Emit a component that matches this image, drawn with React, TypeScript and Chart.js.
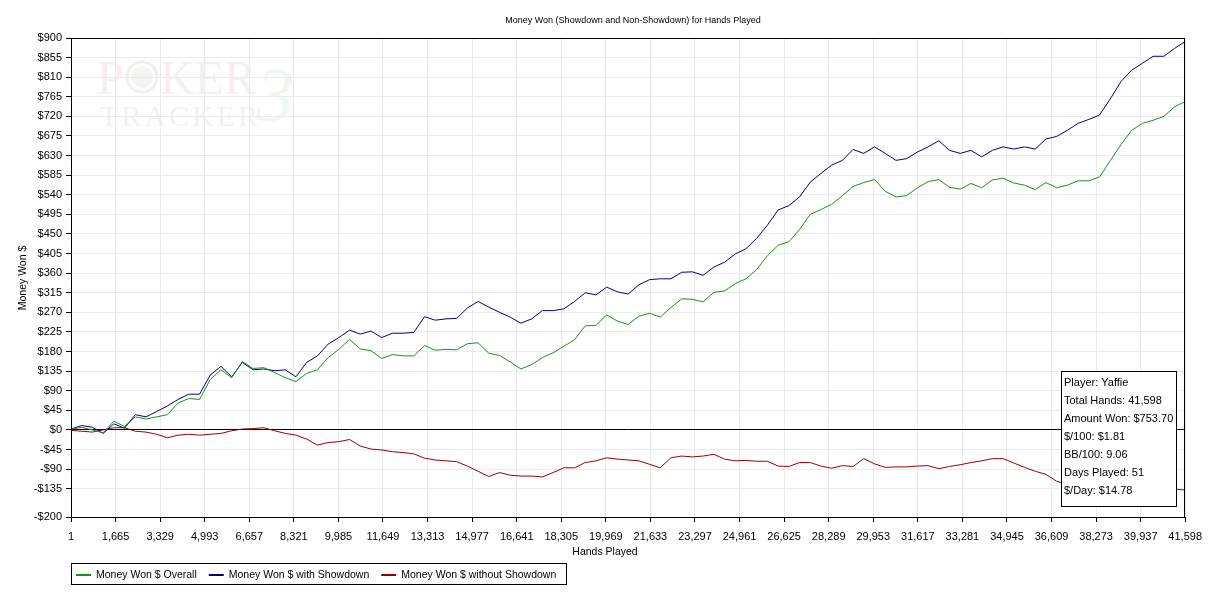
import React, { useEffect, useRef } from "react";
import { Chart, registerables } from "chart.js";

Chart.register(...registerables);

const HANDS = [
  1, 400, 800, 1200, 1600, 2000, 2400, 2800, 3200, 3600,
  4000, 4400, 4800, 5200, 5600, 6000, 6400, 6800, 7200, 7600,
  8000, 8400, 8800, 9200, 9600, 10000, 10400, 10800, 11200, 11600,
  12000, 12400, 12800, 13200, 13600, 14000, 14400, 14800, 15200, 15600,
  16000, 16400, 16800, 17200, 17600, 18000, 18400, 18800, 19200, 19600,
  20000, 20400, 20800, 21200, 21600, 22000, 22400, 22800, 23200, 23600,
  24000, 24400, 24800, 25200, 25600, 26000, 26400, 26800, 27200, 27600,
  28000, 28400, 28800, 29200, 29600, 30000, 30400, 30800, 31200, 31600,
  32000, 32400, 32800, 33200, 33600, 34000, 34400, 34800, 35200, 35600,
  36000, 36400, 36800, 37200, 37600, 38000, 38400, 38800, 39200, 39600,
  40000, 40400, 40800, 41200, 41598,
];

const OVERALL = [
  1, 6, 0, -7, 20, 8, 30, 25, 30, 35,
  62, 72, 70, 116, 138, 120, 157, 141, 143, 132,
  120, 111, 130, 138, 166, 185, 208, 186, 182, 164,
  173, 170, 170, 194, 183, 185, 184, 198, 200, 176,
  171, 156, 140, 150, 166, 177, 192, 207, 239, 240,
  264, 250, 242, 261, 268, 259, 281, 301, 300, 294,
  316, 319, 336, 347, 368, 400, 424, 432, 460, 495,
  506, 518, 538, 559, 568, 575, 548, 535, 538, 556,
  570, 575, 557, 553, 566, 556, 574, 578, 567, 562,
  552, 568, 556, 562, 572, 572, 581, 618, 655, 688,
  704, 711, 720, 742, 754,
];

const WITH_SHOWDOWN = [
  2, 10, 6, -8, 14, 4, 35, 30, 42, 55,
  70, 82, 82, 126, 146, 122, 155, 138, 140, 136,
  138, 122, 155, 170, 197, 212, 229, 220, 227, 212,
  222, 222, 224, 260, 252, 255, 256, 280, 295, 282,
  270, 259, 245, 255, 274, 274, 278, 295, 315, 310,
  328, 317, 312, 333, 345, 347, 347, 362, 363, 355,
  374, 385, 404, 416, 440, 470, 505, 515, 535, 569,
  589, 608, 619, 644, 635, 650, 635, 619, 623, 638,
  650, 664, 642, 635, 642, 627, 642, 650, 645, 650,
  645, 668, 674, 688, 704, 713, 723, 760, 800, 826,
  842, 858, 858, 876, 892,
];

const WITHOUT_SHOWDOWN = [
  -1, -3, -5, 0, 5, 5, -3, -5, -10, -18,
  -12, -10, -12, -10, -8, -2, 2, 3, 5, -2,
  -8, -12, -21, -35, -29, -27, -22, -37, -44, -46,
  -50, -52, -55, -65, -69, -71, -73, -83, -95, -107,
  -98, -104, -106, -106, -108, -98, -87, -87, -75, -71,
  -64, -67, -69, -71, -79, -87, -64, -60, -62, -60,
  -56, -67, -71, -70, -72, -72, -83, -84, -75, -75,
  -83, -88, -82, -84, -66, -78, -86, -85, -85, -83,
  -82, -89, -84, -80, -75, -71, -66, -66, -76, -86,
  -95, -102, -118, -125, -130, -135, -140, -142, -142, -138,
  -138, -140, -138, -136, -138,
];

const Y_TICKS = [
  -200, -135, -90, -45, 0, 45, 90, 135, 180, 225, 270, 315, 360, 405, 450,
  495, 540, 585, 630, 675, 720, 765, 810, 855, 900,
];

const X_TICKS = [
  1, 1665, 3329, 4993, 6657, 8321, 9985, 11649, 13313, 14977, 16641, 18305,
  19969, 21633, 23297, 24961, 26625, 28289, 29953, 31617, 33281, 34945,
  36609, 38273, 39937, 41598,
];

const TITLE = "Money Won (Showdown and Non-Showdown) for Hands Played";
const X_TITLE = "Hands Played";
const Y_TITLE = "Money Won $";
const SERIES_LABELS = [
  "Money Won $ Overall",
  "Money Won $ with Showdown",
  "Money Won $ without Showdown",
];
const SERIES_COLORS = ["#169416", "#000080", "#990000"];
const INFO_LINES = [
  "Player: Yaffie",
  "Total Hands: 41,598",
  "Amount Won: $753.70",
  "$/100: $1.81",
  "BB/100: 9.06",
  "Days Played: 51",
  "$/Day: $14.78",
];

const FONT_FAMILY = "Tahoma, 'Liberation Sans', Arial, sans-serif";

const decorPlugin = {
  id: "decor",
  beforeDraw(chart: any) {
    const ctx = chart.ctx as CanvasRenderingContext2D;
    ctx.save();
    ctx.fillStyle = "#ffffff";
    ctx.fillRect(0, 0, chart.width, chart.height);
    // watermark
    ctx.textBaseline = "alphabetic";
    ctx.textAlign = "left";
    ctx.font = "48px 'Liberation Serif', 'DejaVu Serif', serif";
    ctx.fillStyle = "rgba(200,140,140,0.14)";
    ctx.fillText("P", 97, 94);
    ctx.fillText("KER", 160, 94);
    ctx.beginPath();
    ctx.arc(142, 77, 15, 0, Math.PI * 2);
    ctx.lineWidth = 3;
    ctx.strokeStyle = "rgba(150,170,150,0.16)";
    ctx.stroke();
    ctx.fillStyle = "rgba(150,170,150,0.12)";
    ctx.beginPath();
    ctx.arc(142, 77, 11, 0, Math.PI * 2);
    ctx.fill();
    ctx.font = "30px 'Liberation Serif', 'DejaVu Serif', serif";
    (ctx as any).letterSpacing = "3px";
    ctx.fillStyle = "rgba(150,150,150,0.14)";
    ctx.fillText("TRACKER", 100, 126);
    (ctx as any).letterSpacing = "0px";
    ctx.font = "italic 76px 'Liberation Serif', 'DejaVu Serif', serif";
    ctx.fillStyle = "rgba(120,170,120,0.11)";
    ctx.fillText("3", 256, 120);
    ctx.restore();
  },
  afterDraw(chart: any) {
    const ctx = chart.ctx as CanvasRenderingContext2D;
    const a = chart.chartArea;
    ctx.save();
    // plot frame
    ctx.strokeStyle = "#000";
    ctx.lineWidth = 1;
    ctx.strokeRect(Math.round(a.left) + 0.5, Math.round(a.top) + 0.5, Math.round(a.right - a.left) - 1, Math.round(a.bottom - a.top));

    ctx.fillStyle = "#000";
    // title
    ctx.font = `9px ${FONT_FAMILY}`;
    ctx.textAlign = "center";
    ctx.textBaseline = "middle";
    ctx.fillText(TITLE, 633, 21);

    // axis titles
    ctx.font = `10.5px ${FONT_FAMILY}`;
    ctx.fillText(X_TITLE, 605, 552);
    ctx.save();
    ctx.translate(23, 278);
    ctx.rotate(-Math.PI / 2);
    ctx.fillText(Y_TITLE, 0, 0);
    ctx.restore();

    // legend
    ctx.strokeStyle = "#000";
    ctx.lineWidth = 1;
    ctx.strokeRect(71.5, 563.5, 495, 21);
    ctx.font = `10.5px ${FONT_FAMILY}`;
    ctx.textAlign = "left";
    let lx = 76;
    SERIES_LABELS.forEach((label, i) => {
      ctx.strokeStyle = SERIES_COLORS[i];
      ctx.lineWidth = 2;
      ctx.beginPath();
      ctx.moveTo(lx, 575);
      ctx.lineTo(lx + 15, 575);
      ctx.stroke();
      ctx.fillStyle = "#000";
      ctx.fillText(label, lx + 20, 575);
      lx += 20 + ctx.measureText(label).width + 12;
    });

    // info box
    ctx.fillStyle = "#fff";
    ctx.fillRect(1061, 371, 115, 135);
    ctx.strokeStyle = "#000";
    ctx.lineWidth = 1;
    ctx.strokeRect(1061.5, 371.5, 115, 135);
    ctx.fillStyle = "#000";
    ctx.font = `11px ${FONT_FAMILY}`;
    ctx.textAlign = "left";
    INFO_LINES.forEach((line, i) => {
      ctx.fillText(line, 1064, 383 + i * 18);
    });
    ctx.restore();
  },
};

export default function App() {
  const canvasRef = useRef<HTMLCanvasElement | null>(null);

  useEffect(() => {
    const canvas = canvasRef.current;
    if (!canvas) return;
    const seriesValues = [OVERALL, WITH_SHOWDOWN, WITHOUT_SHOWDOWN];
    const chart = new Chart(canvas, {
      type: "line",
      data: {
        datasets: seriesValues.map((vals, i) => ({
          label: SERIES_LABELS[i],
          data: HANDS.map((h, j) => ({ x: h, y: vals[j] })),
          borderColor: SERIES_COLORS[i],
          backgroundColor: SERIES_COLORS[i],
          borderWidth: 1,
          pointRadius: 0,
          tension: 0,
          fill: false,
        })),
      },
      options: {
        animation: false,
        responsive: false,
        maintainAspectRatio: false,
        devicePixelRatio: 1,
        layout: { padding: { top: 38, right: 24, bottom: 0, left: 0 } },
        plugins: {
          legend: { display: false },
          title: { display: false },
          tooltip: { enabled: false },
        },
        scales: {
          x: {
            type: "linear",
            min: 1,
            max: 41598,
            afterBuildTicks: (s: any) => {
              s.ticks = X_TICKS.map((v) => ({ value: v }));
            },
            afterFit: (s: any) => {
              s.height = 85;
            },
            ticks: {
              autoSkip: false,
              maxRotation: 0,
              minRotation: 0,
              padding: 8,
              color: "#000",
              font: { family: FONT_FAMILY, size: 11 },
              callback: (v: any) => Number(v).toLocaleString("en-US"),
            },
            grid: {
              color: "#ebebeb",
              tickColor: "#000",
              tickLength: 5,
            },
            border: { color: "#000" },
          },
          y: {
            type: "linear",
            min: -200,
            max: 900,
            afterBuildTicks: (s: any) => {
              s.ticks = Y_TICKS.map((v) => ({ value: v }));
            },
            afterFit: (s: any) => {
              s.width = 71;
            },
            ticks: {
              autoSkip: false,
              padding: 4,
              color: "#000",
              font: { family: FONT_FAMILY, size: 11 },
              callback: (v: any) => (Number(v) < 0 ? "-$" + Math.abs(Number(v)) : "$" + v),
            },
            grid: {
              color: (c: any) => (c.tick && c.tick.value === 0 ? "#000" : "#ebebeb"),
              tickColor: "#000",
              tickLength: 5,
            },
            border: { color: "#000" },
          },
        },
      },
      plugins: [decorPlugin],
    });
    return () => chart.destroy();
  }, []);

  return (
    <div style={{ position: "fixed", left: 0, top: 0, width: 1210, height: 602, background: "#fff" }}>
      <canvas ref={canvasRef} width={1210} height={602} style={{ width: 1210, height: 602, display: "block" }} />
    </div>
  );
}
